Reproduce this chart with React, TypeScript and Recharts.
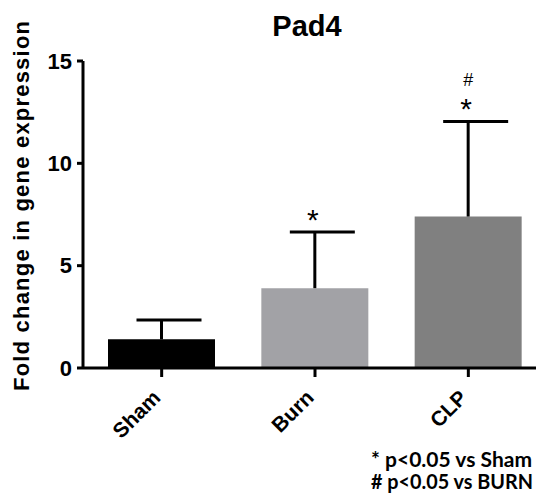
import { Bar, BarChart, Cell, XAxis, YAxis } from "recharts";

const categories = ["Sham", "Burn", "CLP"];
const means = [1.4, 3.9, 7.4];
const sems = [0.95, 2.75, 4.65];
const starMarks = ["", "*", "*"];
const hashMarks = ["", "", "#"];
const yTicks = [0, 5, 10, 15];
const barColors = ["#000000", "#a2a2a6", "#808080"];

const data = categories.map((name, i) => ({
  name,
  mean: means[i],
  sem: sems[i],
  star: starMarks[i],
  hash: hashMarks[i],
}));

const AXIS_FONT = "Liberation Sans";

// upper-only error whisker, drawn as the stacked segment above each bar
const Whisker = (props: any) => {
  const { x, y, width, height, payload } = props;
  const cx = x + width / 2;
  return (
    <g>
      <line x1={cx} y1={y + height} x2={cx} y2={y} stroke="#000" strokeWidth={3} />
      <line x1={cx - 25} y1={y} x2={cx + 40} y2={y} stroke="#000" strokeWidth={3} />
      {payload.star ? (
        <text x={cx - 2} y={y - 2} textAnchor="middle" fontFamily={AXIS_FONT} fontSize={30} fill="#000">
          {payload.star}
        </text>
      ) : null}
      {payload.hash ? (
        <text x={cx} y={y - 35} textAnchor="middle" fontFamily={AXIS_FONT} fontSize={18} fill="#000">
          {payload.hash}
        </text>
      ) : null}
    </g>
  );
};

const renderXTick = (props: any) => {
  const { x, y, payload } = props;
  const ty = y + 22;
  return (
    <text
      x={x}
      y={ty}
      transform={`rotate(-45, ${x}, ${ty})`}
      textAnchor="end"
      fontFamily={AXIS_FONT}
      fontWeight={700}
      fontSize={21}
      fill="#000"
    >
      {payload.value}
    </text>
  );
};

export default function App() {
  return (
    <div
      style={{
        position: "absolute",
        left: 0,
        top: 0,
        width: 536,
        height: 495,
        overflow: "hidden",
        background: "#fff",
      }}
    >
      <BarChart
        width={548}
        height={495}
        data={data}
        margin={{ top: 61, right: 3, left: 0, bottom: 0 }}
        barSize={107}
      >
        <YAxis
          width={83}
          domain={[0, 15]}
          ticks={yTicks}
          interval={0}
          tickSize={6}
          tickMargin={5}
          axisLine={{ stroke: "#000", strokeWidth: 3 }}
          tickLine={{ stroke: "#000", strokeWidth: 3 }}
          tick={{ fontFamily: AXIS_FONT, fontWeight: 700, fontSize: 22, fill: "#000" }}
          label={{
            content: () => (
              <text
                x={29}
                y={206}
                transform="rotate(-90, 29, 206)"
                textAnchor="middle"
                fontFamily={AXIS_FONT}
                fontWeight={700}
                fontSize={22}
                textLength={370}
                lengthAdjust="spacing"
                fill="#000"
              >
                Fold change in gene expression
              </text>
            ),
          }}
        />
        <XAxis
          dataKey="name"
          height={127}
          padding={{ left: 2, right: 0 }}
          tickSize={9}
          tickMargin={0}
          axisLine={{ stroke: "#000", strokeWidth: 3 }}
          tickLine={{ stroke: "#000", strokeWidth: 3 }}
          tick={renderXTick}
          interval={0}
        />
        <Bar dataKey="mean" stackId="a" isAnimationActive={false}>
          {data.map((d, i) => (
            <Cell key={d.name} fill={barColors[i]} />
          ))}
        </Bar>
        <Bar dataKey="sem" stackId="a" isAnimationActive={false} shape={<Whisker />} />
      </BarChart>
      <svg
        width={536}
        height={495}
        style={{ position: "absolute", left: 0, top: 0, pointerEvents: "none" }}
      >
        <text x={307} y={36} textAnchor="middle" fontFamily={AXIS_FONT} fontWeight={700} fontSize={29} fill="#000">
          Pad4
        </text>
        <text
          x={371}
          y={467}
          fontFamily="Lato"
          fontWeight={700}
          fontSize={20}
          textLength={161}
          lengthAdjust="spacingAndGlyphs"
          fill="#000"
        >
          * p&lt;0.05 vs Sham
        </text>
        <text
          x={371}
          y={489}
          fontFamily="Lato"
          fontWeight={700}
          fontSize={20}
          textLength={162}
          lengthAdjust="spacingAndGlyphs"
          fill="#000"
        >
          # p&lt;0.05 vs BURN
        </text>
      </svg>
    </div>
  );
}
